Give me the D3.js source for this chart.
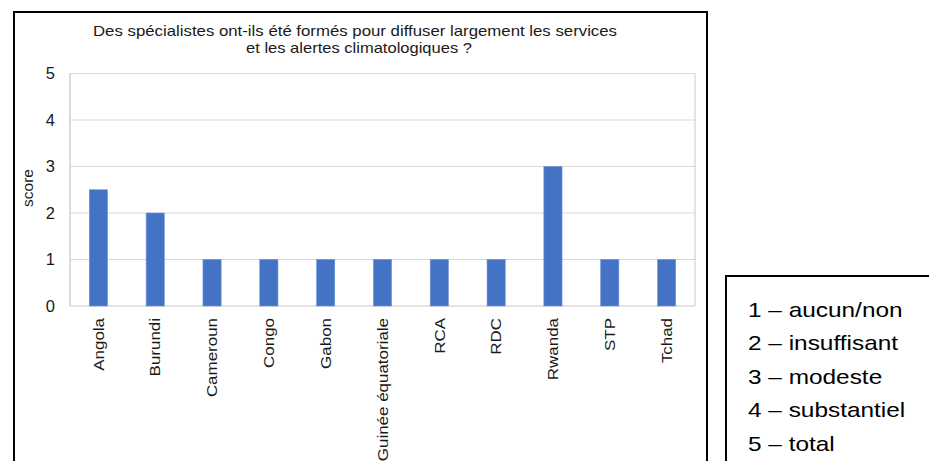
<!DOCTYPE html>
<html>
<head>
<meta charset="utf-8">
<script src="https://cdn.jsdelivr.net/npm/d3@7"></script>
<style>
  html, body { margin: 0; padding: 0; background: #fff; }
  svg { display: block; font-family: "Liberation Sans", Arial, sans-serif; }
</style>
</head>
<body>
<svg id="chart" width="929" height="461"></svg>
<script>
// Scores by country
const countries = ["Angola", "Burundi", "Cameroun", "Congo", "Gabon", "Guinée équatoriale", "RCA", "RDC", "Rwanda", "STP", "Tchad"];
const scores = [2.5, 2, 1, 1, 1, 1, 1, 1, 3, 1, 1];
const yTicks = [0, 1, 2, 3, 4, 5];
const titleLines = ["Des spécialistes ont-ils été formés pour diffuser largement les services", "et les alertes climatologiques ?"];
const legendLines = ["1 – aucun/non", "2 – insuffisant", "3 – modeste", "4 – substantiel", "5 – total"];

const svg = d3.select("#chart");

// Outer chart frame
svg.append("rect")
  .attr("x", 14).attr("y", 12)
  .attr("width", 693).attr("height", 470)
  .attr("fill", "none").attr("stroke", "#000").attr("stroke-width", 2);

const plot = { left: 70, right: 695, top: 73.5, bottom: 306 };

const x = d3.scaleBand().domain(countries).range([plot.left, plot.right]).paddingInner(0.68).paddingOuter(0.34);
const y = d3.scaleLinear().domain([0, 5]).range([plot.bottom, plot.top]);

// Title, each line fitted to its width
const titleLayout = [{ x: 93, y: 36, len: 524 }, { x: 246, y: 52.5, len: 226 }];
svg.append("g").selectAll("text").data(titleLines).join("text")
  .attr("x", (d, i) => titleLayout[i].x)
  .attr("y", (d, i) => titleLayout[i].y)
  .attr("textLength", (d, i) => titleLayout[i].len)
  .attr("lengthAdjust", "spacingAndGlyphs")
  .attr("font-size", 15)
  .attr("fill", "#1a1a1a")
  .text(d => d);

// Gridlines
svg.append("g").selectAll("line").data(yTicks.filter(t => t > 0)).join("line")
  .attr("x1", plot.left).attr("x2", plot.right)
  .attr("y1", d => y(d)).attr("y2", d => y(d))
  .attr("stroke", "#d9d9d9").attr("stroke-width", 1);

// Plot area right edge, left axis and baseline
svg.append("line").attr("x1", plot.right).attr("x2", plot.right).attr("y1", plot.top).attr("y2", plot.bottom)
  .attr("stroke", "#c8c8c8");
svg.append("line").attr("x1", plot.left).attr("x2", plot.left).attr("y1", plot.top).attr("y2", plot.bottom)
  .attr("stroke", "#b8b8b8");
svg.append("line").attr("x1", plot.left).attr("x2", plot.right).attr("y1", plot.bottom).attr("y2", plot.bottom)
  .attr("stroke", "#c8c8c8");

// Y axis labels
const yAxis = d3.axisLeft(y).tickValues(yTicks).tickSize(0).tickPadding(15).tickFormat(d3.format("d"));
const gy = svg.append("g").attr("transform", `translate(${plot.left},0)`).call(yAxis);
gy.select(".domain").remove();
gy.selectAll("text").attr("font-size", 16.5).attr("fill", "#1a1a1a").attr("font-family", "'Liberation Sans', Arial, sans-serif");

// Y axis title
svg.append("text")
  .attr("transform", "translate(33,188) rotate(-90)")
  .attr("text-anchor", "middle")
  .attr("font-size", 15.5).attr("fill", "#1a1a1a")
  .text("score");

// Bars
svg.append("g").selectAll("rect").data(countries).join("rect")
  .attr("x", d => x(d))
  .attr("y", (d, i) => y(scores[i]))
  .attr("width", x.bandwidth())
  .attr("height", (d, i) => y(0) - y(scores[i]))
  .attr("fill", "#4472c4")
  .attr("stroke", "#6f93d6").attr("stroke-width", 0.6);

// X axis labels (rotated, slightly elongated)
const xAxis = d3.axisBottom(x).tickSize(0).tickPadding(0);
const gx = svg.append("g").attr("transform", `translate(0,${plot.bottom})`).call(xAxis);
gx.select(".domain").remove();
gx.selectAll("text")
  .attr("font-size", 15).attr("fill", "#1a1a1a")
  .attr("font-family", "'Liberation Sans', Arial, sans-serif")
  .attr("text-anchor", "end")
  .attr("dy", "0.35em")
  .attr("transform", "translate(0,12) rotate(-90) scale(1.13,1)")
  .attr("x", 0).attr("y", 0);

// Legend box
svg.append("rect")
  .attr("x", 726).attr("y", 276)
  .attr("width", 220).attr("height", 200)
  .attr("fill", "#fff").attr("stroke", "#000").attr("stroke-width", 2);

svg.append("g")
  .attr("transform", "translate(748,0) scale(1.22,1)")
  .selectAll("text").data(legendLines).join("text")
  .attr("x", 0).attr("y", (d, i) => 317 + i * 33.5)
  .attr("font-size", 20).attr("fill", "#000")
  .attr("font-family", "'Liberation Sans', Arial, sans-serif")
  .text(d => d);
</script>
</body>
</html>
